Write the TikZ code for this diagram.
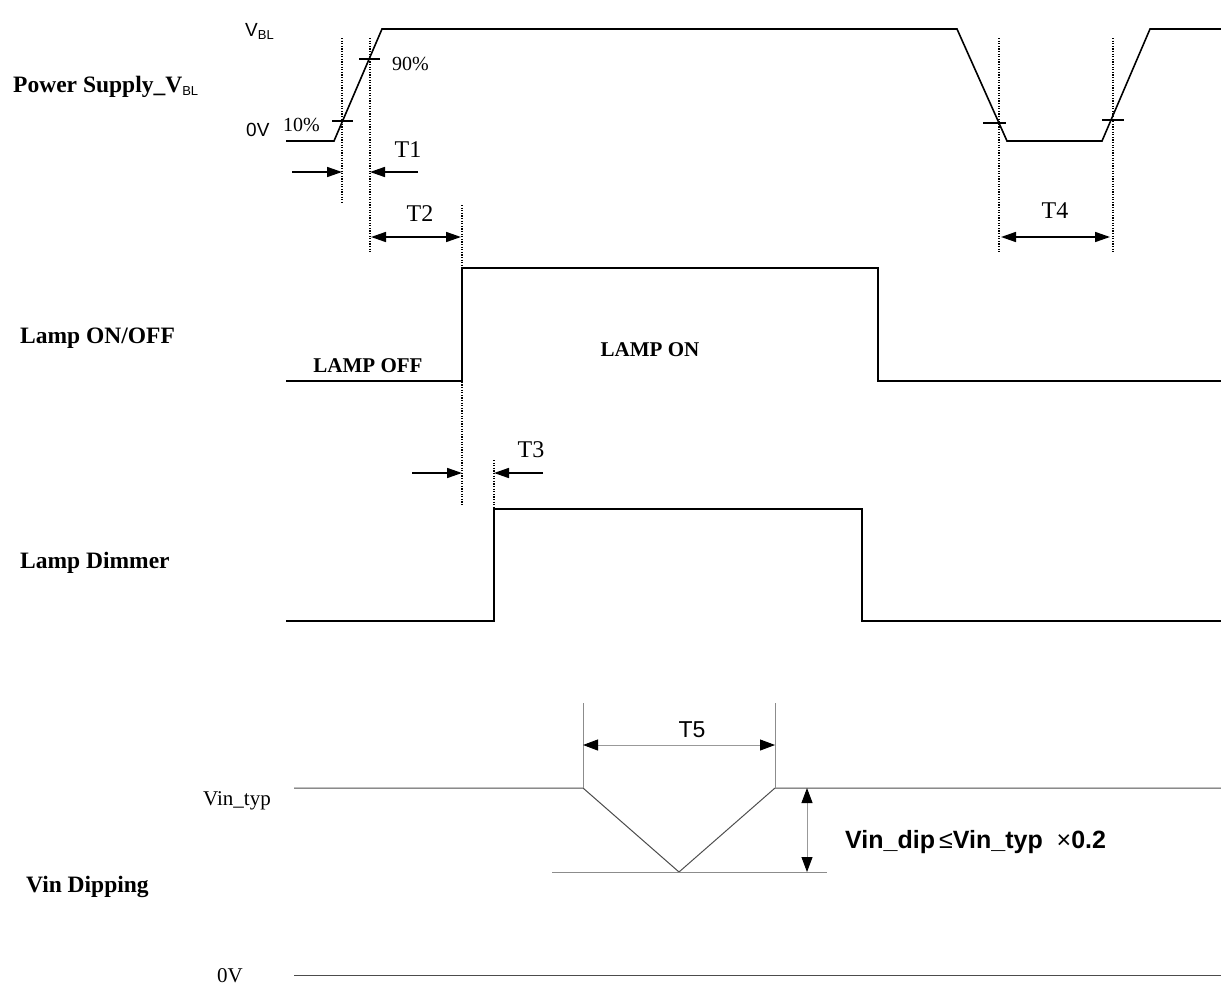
\documentclass[tikz,border=0pt]{standalone}
\usepackage{fontspec}
\setmainfont{Liberation Serif}
\setsansfont{Liberation Sans}
\usetikzlibrary{arrows.meta,positioning}

\tikzset{
  sig/.style={line width=1.6pt},
  vinline/.style={line width=1pt, black!70},
  extline/.style={line width=0.9pt, black!45},
  guide/.style={line width=1.1pt, dash pattern=on 1.1pt off 1.5pt},
  mark10/.style={line width=1.3pt},
  onearrow/.style={line width=1.6pt, -{Triangle[length=15pt,width=10pt]}},
  twoarrow/.style={line width=1.6pt, {Triangle[length=15pt,width=10pt]}-{Triangle[length=15pt,width=10pt]}},
  dimarrow/.style={line width=0.9pt, black!40, {Triangle[length=15pt,width=11pt,color=black]}-{Triangle[length=15pt,width=11pt,color=black]}},
  siglabel/.style={anchor=base west, inner sep=0pt, font=\fontsize{23.5}{26}\selectfont\bfseries},
  tlabel/.style={anchor=base, inner sep=0pt, font=\fontsize{24}{26}\selectfont},
  pctlabel/.style={anchor=base west, inner sep=0pt, font=\fontsize{20}{22}\selectfont},
  lamplabel/.style={anchor=base, inner sep=0pt, font=\fontsize{21}{23}\selectfont\bfseries},
  voltlabel/.style={anchor=base west, inner sep=0pt, font=\sffamily\fontsize{19}{21}\selectfont},
  vinlabel/.style={anchor=base, inner sep=0pt, font=\fontsize{21}{23}\selectfont},
}
\newcommand{\blsub}{\raisebox{-0.35ex}{\sffamily\mdseries\fontsize{13}{14}\selectfont BL}}

\begin{document}
\begin{tikzpicture}[x=1pt,y=-1pt]
\useasboundingbox (0,0) rectangle (1221,985);

% signal names
\node[siglabel] (psu) at (13,92) {Power Supply\_V\blsub};
\node[siglabel] (lamp) at (20,343) {Lamp ON/OFF};
\node[siglabel] (dim) at (20,568) {Lamp Dimmer};
\node[siglabel] (vin) at (26,892) {Vin Dipping};

% power supply
\coordinate (p0) at (286,141);
\coordinate (p1) at (334,141);
\coordinate (p2) at (382,29);
\coordinate (p3) at (957,29);
\coordinate (p4) at (1007,141);
\coordinate (p5) at (1102,141);
\coordinate (p6) at (1150,29);
\coordinate (p7) at (1221,29);
\draw[sig] (p0) -- (p1) -- (p2) -- (p3) -- (p4) -- (p5) -- (p6) -- (p7);
\draw[mark10] (332,121) -- (353,121);
\draw[mark10] (359,59) -- (380,59);
\draw[mark10] (983,123) -- (1006,123);
\draw[mark10] (1102,120) -- (1124,120);

\node[voltlabel] (vbl) at (245,36) {V\blsub};
\node[voltlabel] (zero) at (246,136) {0V};
\node[pctlabel] (p10) at (283,131) {10\%};
\node[pctlabel] (p90) at (392,70) {90\%};

% guides
\coordinate (g1a) at (342,38);  \coordinate (g1b) at (342,203);
\coordinate (g2a) at (370,38);  \coordinate (g2b) at (370,252);
\coordinate (g3a) at (462,205); \coordinate (g3b) at (462,505);
\coordinate (g4a) at (494,460); \coordinate (g4b) at (494,507);
\coordinate (g5a) at (999,38);  \coordinate (g5b) at (999,252);
\coordinate (g6a) at (1113,38); \coordinate (g6b) at (1113,252);
\foreach \g in {1,...,6}
  \draw[guide] (g\g a) -- (g\g b);

% T1 .. T4
\coordinate (t1l) at (292,172); \coordinate (t1r) at (418,172);
\draw[onearrow] (t1l) -- (342,172);
\draw[onearrow] (t1r) -- (370,172);
\node[tlabel] (T1) at (408,157) {T1};

\coordinate (t2l) at (371,237); \coordinate (t2r) at (461,237);
\draw[twoarrow] (t2l) -- (t2r);
\node[tlabel] (T2) at (420,221) {T2};

\coordinate (t3l) at (412,473); \coordinate (t3r) at (543,473);
\draw[onearrow] (t3l) -- (462,473);
\draw[onearrow] (t3r) -- (494,473);
\node[tlabel] (T3) at (531,457) {T3};

\coordinate (t4l) at (1001,237); \coordinate (t4r) at (1110,237);
\draw[twoarrow] (t4l) -- (t4r);
\node[tlabel] (T4) at (1055,218) {T4};

% lamp on/off
\draw[sig] (286,381) -- (462,381) -- (462,268) -- (878,268) -- (878,381) -- (1221,381);
\node[lamplabel] (off) at (368,372) {LAMP OFF};
\node[lamplabel] (on) at (650,356) {LAMP ON};

% lamp dimmer
\draw[sig] (286,621) -- (494,621) -- (494,509) -- (862,509) -- (862,621) -- (1221,621);

% vin dipping
\coordinate (v0) at (294,788);
\coordinate (v1) at (583,788);
\coordinate (v2) at (679,872);
\coordinate (v3) at (775,788);
\coordinate (v4) at (1221,788);
\draw[vinline] (v0) -- (v1) -- (v2) -- (v3) -- (v4);
\draw[extline] (552,872) -- (827,872);
\draw[vinline] (294,975) -- (1221,975);
\draw[extline] (v1) -- (583,703);
\draw[extline] (v3) -- (775,703);
\draw[dimarrow] (583,745) -- (775,745);
\draw[dimarrow] (807,788) -- (807,872);
\node[anchor=base, inner sep=0pt, font=\sffamily\fontsize{23}{25}\selectfont] (T5) at (692,737) {T5};
\node[anchor=base west, inner sep=0pt, font=\sffamily\bfseries\fontsize{25}{27}\selectfont] (dip) at (845,848) {Vin\_dip\,{\mdseries ≤}Vin\_typ \;{\mdseries ×}0.2};
\node[vinlabel] (typ) at (237,805) {Vin\_typ};
\node[vinlabel] (gnd) at (230,982) {0V};
\end{tikzpicture}
\end{document}
